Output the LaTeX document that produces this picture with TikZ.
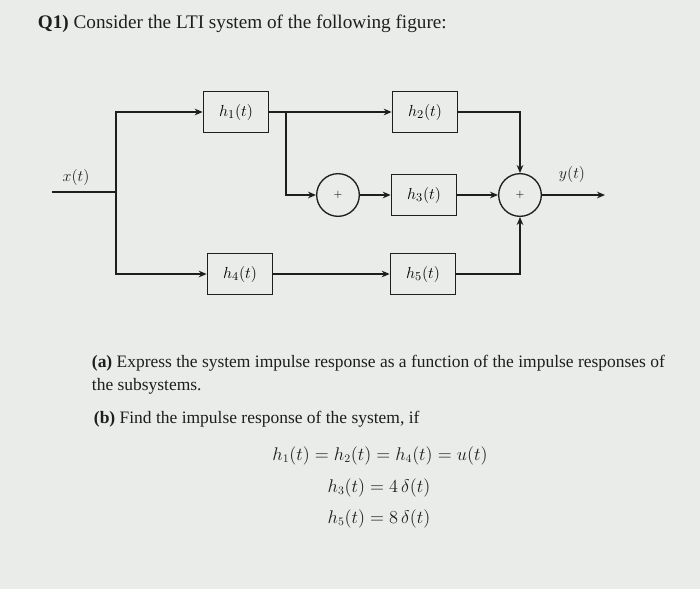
\documentclass[tikz,border=0pt]{standalone}
\usepackage{amsmath}
\usepackage{graphicx}
\usepackage{fontspec}
\setmainfont{Liberation Serif}
\usetikzlibrary{arrows.meta}

\definecolor{paper}{RGB}{233,236,232}
\definecolor{ink}{RGB}{30,30,30}
\newcommand{\eqbox}[1]{\scalebox{0.955}{$#1$}}

\begin{document}
\begin{tikzpicture}[x=0.75pt,y=-0.75pt,
    line width=1.4pt, draw=ink,
    >={Stealth[length=6pt,width=5pt]},
    blk/.style={draw=ink, line width=1pt, minimum width=49pt, minimum height=31pt, inner sep=0pt, font=\fontsize{12.5}{15}\selectfont},
    sumnode/.style={draw=ink, circle, line width=1pt, minimum size=32pt, inner sep=0pt, font=\footnotesize},
    lbl/.style={text=ink, inner sep=0pt, font=\fontsize{12}{14}\selectfont},
    txt/.style={anchor=base west, inner sep=0pt, text=ink, font=\fontsize{13.1}{15}\selectfont},
    eqn/.style={anchor=base, inner sep=0pt, text=ink, font=\fontsize{13.4}{16}\selectfont}]
    % page
    \fill[paper] (0,0) rectangle (700,589);
    \useasboundingbox (0,0) rectangle (700,589);

    \node[txt, font=\fontsize{14.4}{17}\selectfont] (title) at (37,28) {\textbf{Q1)} Consider the LTI system of the following figure:};

    % blocks
    \node[blk] (h1) at (236,112) {$h_1(t)$};
    \node[blk] (h2) at (425,112) {$h_2(t)$};
    \node[blk] (h3) at (424,195) {$h_3(t)$};
    \node[blk] (h4) at (240,274) {$h_4(t)$};
    \node[blk] (h5) at (423,274) {$h_5(t)$};
    \node[sumnode] (s1) at (338,195) {$+$};
    \node[sumnode] (s2) at (520,195) {$+$};

    \coordinate (in) at (52,192);
    \coordinate (split) at (116,192);
    \coordinate (tap) at (286,112);
    \coordinate (out) at (605,195);

    \node[lbl] (xlbl) at (76,177) {$x(t)$};
    \node[lbl] (ylbl) at (572,174) {$y(t)$};

    % connectors
    \draw (in) -- (split);
    \draw[->] (split) |- (h1.west);
    \draw[->] (split) |- (h4.west);
    \draw[->] (h1.east) -- (h2.west);
    \draw[->] (tap) |- (s1.west);
    \draw[->] (s1) -- (h3);
    \draw[->] (h3) -- (s2);
    \draw[->] (h2.east) -| (s2.north);
    \draw[->] (h5.east) -| (s2.south);
    \draw[->] (h4) -- (h5);
    \draw[->] (s2) -- (out);

    % questions
    \node[txt] (qa) at (91,367) {\textbf{(a)} Express the system impulse response as a function of the impulse responses of};
    \node[txt] (qa2) at (91,390) {the subsystems.};
    \node[txt] (qb) at (93,423) {\textbf{(b)} Find the impulse response of the system, if};

    \node[eqn] (eq1) at (380,460) {\eqbox{h_1(t) = h_2(t) = h_4(t) = u(t)}};
    \node[eqn] (eq2) at (379,492) {\eqbox{h_3(t) = 4\,\delta(t)}};
    \node[eqn] (eq3) at (379,523) {\eqbox{h_5(t) = 8\,\delta(t)}};
\end{tikzpicture}
\end{document}
